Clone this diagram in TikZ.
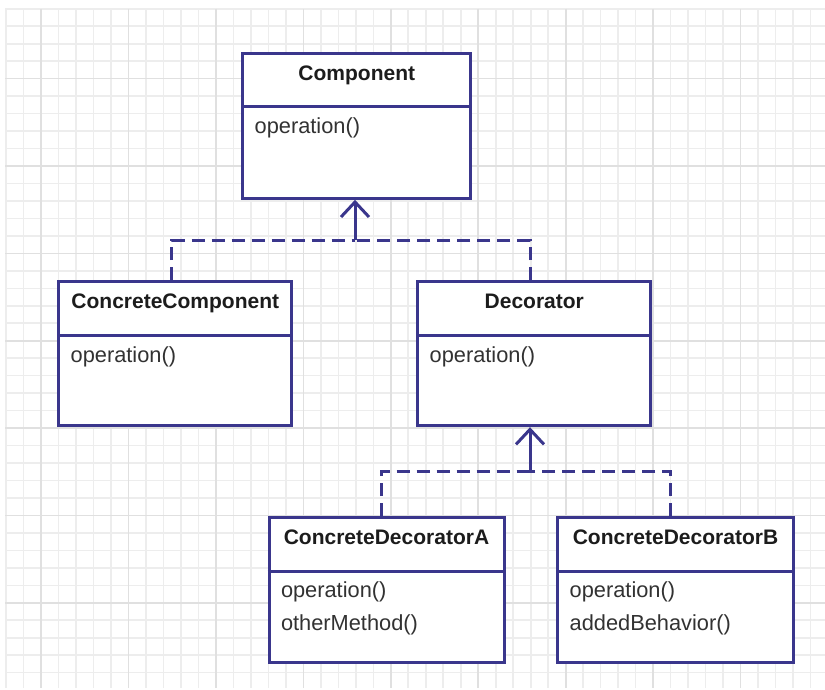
\documentclass[tikz,border=0pt]{standalone}
\usepackage{fontspec}
\setmainfont{Liberation Sans}
\usetikzlibrary{arrows.meta}
\definecolor{umlline}{RGB}{58,54,140}
\definecolor{titletxt}{RGB}{28,28,28}
\definecolor{optxt}{RGB}{50,50,50}
\definecolor{gridminor}{RGB}{237,237,237}
\definecolor{gridmajor}{RGB}{224,224,224}
\begin{document}
\begin{tikzpicture}[x=1pt,y=-1pt,
  classbox/.style={draw=umlline, line width=3pt, fill=white, inner sep=0pt, rectangle},
  divider/.style={draw=umlline, line width=3pt},
  ctitle/.style={anchor=base, inner sep=0pt, text=titletxt, font=\fontsize{21}{25}\selectfont\bfseries},
  cop/.style={anchor=base west, inner sep=0pt, text=optxt, font=\fontsize{21.8}{26}\selectfont},
  realize/.style={draw=umlline, line width=3pt, dash pattern=on 13pt off 7pt},
  inherit/.style={draw=umlline, line width=3pt, -{Straight Barb[length=15pt,width=28pt,line width=3pt]}},
  gminor/.style={draw=gridminor, line width=1.6pt},
  gmajor/.style={draw=gridmajor, line width=1.6pt}
]
\useasboundingbox (0,0) rectangle (825,690);
\fill[white] (0,0) rectangle (825,690);
% grid
\foreach \i in {-2,...,44} {
  \draw[gminor] ({41+17.49*\i},9) -- ({41+17.49*\i},688);
}
\foreach \k in {-4,...,34} {
  \draw[gminor] (5,{78.7+17.47*\k}) -- (825,{78.7+17.47*\k});
}
\foreach \i in {0,5,...,40} {
  \draw[gmajor] ({41+17.49*\i},9) -- ({41+17.49*\i},688);
}
\foreach \k in {0,5,...,30} {
  \draw[gmajor] (5,{78.7+17.47*\k}) -- (825,{78.7+17.47*\k});
}

\coordinate (j1) at (355,240);
\coordinate (j2) at (530,471.7);

% boxes
\node[classbox, minimum width=227.7pt, minimum height=145pt] (comp) at (356.8,125.8) {};
\node[classbox, minimum width=232.7pt, minimum height=144pt] (cc) at (175.3,353.7) {};
\node[classbox, minimum width=232.7pt, minimum height=144pt] (dec) at (534.3,353.7) {};
\node[classbox, minimum width=235pt, minimum height=144.6pt] (cda) at (386.5,590) {};
\node[classbox, minimum width=235.6pt, minimum height=144.6pt] (cdb) at (675.5,590) {};

% connectors
\draw[realize] ([xshift=-3.6pt]cc.north) |- (j1);
\draw[realize] ([xshift=-4.3pt]dec.north) |- (j1);
\draw[inherit] (j1) -- (j1 |- comp.south);

\draw[realize] ([xshift=-5.5pt]cda.north) |- (j2);
\draw[realize] ([xshift=-4.8pt]cdb.north) |- (j2);
\draw[inherit] (j2) -- (j2 |- dec.south);

% dividers
\foreach \b in {comp,cc,dec,cda,cdb} {
  \draw[divider] ([yshift=-55pt]\b.north west) -- ([yshift=-55pt]\b.north east);
}

% texts
\node[ctitle] (compT) at ([yshift=-29pt]comp.north) {Component};
\node[cop] (compO) at ([xshift=13pt,yshift=-82pt]comp.north west) {operation()};

\node[ctitle] (ccT) at ([yshift=-28.5pt]cc.north) {ConcreteComponent};
\node[cop] (ccO) at ([xshift=13pt,yshift=-82.5pt]cc.north west) {operation()};

\node[ctitle] (decT) at ([yshift=-28.5pt]dec.north) {Decorator};
\node[cop] (decO) at ([xshift=13pt,yshift=-82.5pt]dec.north west) {operation()};

\node[ctitle] (cdaT) at ([yshift=-28pt]cda.north) {ConcreteDecoratorA};
\node[cop] (cdaO1) at ([xshift=13.3pt,yshift=-81.5pt]cda.north west) {operation()};
\node[cop] (cdaO2) at ([xshift=13.3pt,yshift=-114pt]cda.north west) {otherMethod()};

\node[ctitle] (cdbT) at ([yshift=-28pt]cdb.north) {ConcreteDecoratorB};
\node[cop] (cdbO1) at ([xshift=13.3pt,yshift=-81.5pt]cdb.north west) {operation()};
\node[cop] (cdbO2) at ([xshift=13.3pt,yshift=-114pt]cdb.north west) {addedBehavior()};
\end{tikzpicture}
\end{document}
